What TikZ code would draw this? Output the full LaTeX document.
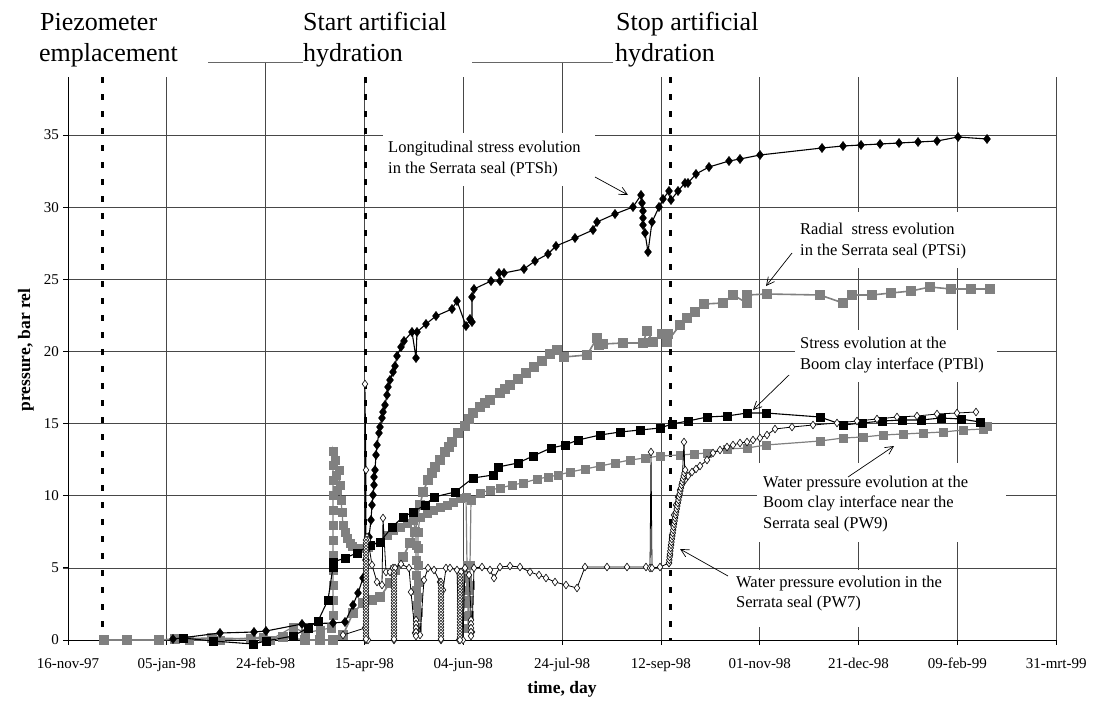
\documentclass[tikz,border=0pt]{standalone}
\usepackage{fontspec}
\setmainfont{Liberation Serif}
\usetikzlibrary{plotmarks,arrows.meta}
\begin{document}
\begin{tikzpicture}[x=1pt,y=-1pt,
  gridln/.style={draw=black!72, line width=0.7pt},
  hydr/.style={line width=3pt, dash pattern=on 5.5pt off 11.5pt},
  bigtxt/.style={font=\fontsize{26}{30}\selectfont, anchor=base west, inner sep=0pt},
  ticktxt/.style={font=\fontsize{15}{18}\selectfont, inner sep=0pt},
  notetxt/.style={font=\fontsize{16.5}{21}\selectfont, anchor=base west, inner sep=0pt},
  axtitle/.style={font=\bfseries\fontsize{17.5}{20}\selectfont, inner sep=0pt},
  annarrow/.style={-{Straight Barb[length=8pt,width=8pt]}, line width=0.7pt},
  ptsh/.style={black, line width=1.1pt, mark=diamond*, mark size=4.6pt, mark options={fill=black, draw=black, line width=0.4pt, solid}},
  ptsi/.style={black!50, line width=1.6pt, mark=square*, mark size=4.5pt, mark options={fill=black!50, draw=black!50, line width=0.3pt}},
  pw9/.style={black!50, line width=1.2pt, mark=square*, mark size=4.1pt, mark options={fill=black!50, draw=black!50, line width=0.3pt}},
  ptbl/.style={black, line width=1.1pt, mark=square*, mark size=4.3pt, mark options={fill=black, draw=black, line width=0.3pt}},
  pw7/.style={black, line width=0.8pt, mark=diamond*, mark size=3.8pt, mark options={fill=white, draw=black, line width=0.6pt, solid}},
]
\useasboundingbox (0,0) rectangle (1094,701);
\fill[white] (0,0) rectangle (1094,701);

% horizontal grid lines
\foreach \v in {5,10,...,35}{
  \draw[gridln] (63,{640-14.43*\v}) -- (1056,{640-14.43*\v});
}
% vertical grid lines
\foreach \k in {1,3,4,6,7,8,9,10}{
  \draw[gridln] ({68+98.82*\k},77) -- ({68+98.82*\k},640);
}
\foreach \k in {2,5}{
  \draw[gridln] ({68+98.82*\k},62) -- ({68+98.82*\k},640);
}
\draw[black!60, line width=0.8pt] (208,62) -- (303,62);
\draw[black!60, line width=0.8pt] (472,62) -- (613,62);

% white label boxes
\fill[white] (383,133) rectangle (595,186);
\fill[white] (795,212) rectangle (975,268);
\fill[white] (795,330) rectangle (997,382);
\fill[white] (757,463) rectangle (1006,542);
\fill[white] (730,570) rectangle (950,627);

% axes
\draw[black, line width=1pt] (68,77) -- (68,640) -- (1056,640);
\foreach \v in {0,5,...,35}{
  \draw[black, line width=0.8pt] (63,{640-14.43*\v}) -- (68,{640-14.43*\v});
}
\foreach \k in {0,...,10}{
  \draw[black, line width=0.8pt] ({68+98.82*\k},640) -- ({68+98.82*\k},645);
}

% y tick labels
\foreach \v in {0,5,...,35}{
  \node[ticktxt, anchor=east] (yl\v) at (59,{640-14.43*\v}) {\v};
}
% x tick labels
\foreach \k/\lab in {0/16-nov-97,1/05-jan-98,2/24-feb-98,3/15-apr-98,4/04-jun-98,5/24-jul-98,6/12-sep-98,7/01-nov-98,8/21-dec-98,9/09-feb-99,10/31-mrt-99}{
  \node[ticktxt, anchor=base] (xl\k) at ({68+98.82*\k},668) {\lab};
}

% axis titles
\node[axtitle, rotate=90] (ylab) at (26,350) {pressure, bar rel};
\node[axtitle] (xlab) at (562,689) {time, day};

% event titles
\node[bigtxt] (ev1a) at (40,31) {Piezometer};
\node[bigtxt] (ev1b) at (39,61) {emplacement};
\node[bigtxt] (ev2a) at (303,31) {Start artificial};
\node[bigtxt] (ev2b) at (303,61) {hydration};
\node[bigtxt] (ev3a) at (616,31) {Stop artificial};
\node[bigtxt] (ev3b) at (615,61) {hydration};

% event lines
\draw[hydr] (102,77) -- (102,640);
\draw[hydr] (365,77) -- (365,640);
\draw[hydr] (670,77) -- (670,640);

% ---------- data series ----------
% PTSi radial stress (grey squares)
\draw[ptsi] plot coordinates {(104,640)(127,640)(159,640)(175,639)(212,638)(251,639)(283,637)(305,640)(320,640)(333,640)(343,635)(353,613)(363,603)(372,600)(380,597)(390,583)(395,570)(403,557)(410,543)(415,532)(420,505)(423,492)(428,480)(432,473)(435,467)(440,460)(445,452)(449,447)(452,442)(458,433)(465,426)(469,419)(473,413)(480,407)(485,403)(490,400)(500,393)(505,389)(510,385)(518,379)(526,373)(534,367)(542,361)(550,354)(557,350)(564,357)(587,355)(597,338)(599,345)(603,344)(623,343)(643,343)(647,331)(653,342)(662,334)(668,334)(667,342)(680,325)(687,318)(695,312)(704,304)(723,303)(733,295)(747,303)(747,295)(767,294)(820,295)(843,303)(852,295)(872,295)(891,293)(911,291)(930,287)(951,289)(971,289)(990,289)};

% PW9 water pressure at interface (grey squares)
\draw[pw9] plot coordinates {(189,640)(220,640)(263,637)(270,640)(293,627)(305,633)(320,630)(331,628)(333,615)(333,600)(333,585)(333,570)(333,555)(333,540)(333,525)(333,510)(333,495)(333,480)(333,465)(333,451)(335,460)(336,475)(337,490)(339,470)(340,485)(341,500)(342,512)(343,525)(345,532)(347,538)(350,543)(352,546)(357,548)(363,548)(368,547)(380,542)(387,535)(393,530)(400,527)(407,523)(413,520)(416,532)(416,545)(416,560)(416,575)(416,590)(416,605)(417,617)(417,627)(418,612)(418,597)(418,582)(418,565)(418,548)(418,532)(420,517)(427,513)(433,510)(440,507)(447,505)(453,502)(460,498)(466,497)(467,565)(467,578)(468,590)(468,603)(468,616)(468,628)(469,615)(469,600)(470,585)(470,565)(471,500)(480,493)(490,490)(500,488)(512,485)(523,483)(537,479)(548,477)(558,475)(570,472)(585,469)(600,466)(615,463)(630,460)(645,458)(660,456)(680,455)(694,454)(707,453)(727,449)(747,448)(766,445)(820,441)(843,438)(863,437)(883,435)(903,434)(923,433)(943,432)(963,430)(983,429)(987,426)};

% PTBl stress at Boom clay interface (black squares)
\draw[ptbl] plot coordinates {(183,638)(213,641)(253,644)(266,641)(293,636)(308,628)(318,621)(328,600)(333,567)(333,562)(345,558)(357,553)(370,545)(380,542)(392,527)(403,517)(413,512)(425,505)(434,497)(455,492)(473,478)(493,475)(498,467)(518,463)(533,456)(551,448)(565,445)(578,440)(600,435)(620,432)(640,430)(660,428)(672,424)(688,421)(707,417)(727,416)(747,413)(766,413)(820,417)(843,425)(862,423)(882,421)(902,420)(921,420)(941,418)(961,419)(980,422)};

% PTSh longitudinal stress (black diamonds)
\draw[ptsh] plot coordinates {(173,639)(220,633)(254,632)(266,631)(302,624)(333,623)(345,622)(353,605)(358,593)(363,578)(366,560)(369,537)(371,520)(372,505)(373,495)(374,485)(374,477)(375,470)(376,455)(377,445)(379,433)(380,427)(382,418)(383,412)(385,405)(387,395)(388,387)(390,380)(393,372)(395,366)(397,356)(401,347)(404,341)(412,332)(416,358)(417,332)(426,324)(436,316)(452,309)(457,301)(466,326)(470,319)(472,322)(472,297)(474,289)(491,281)(500,281)(499,273)(504,273)(524,269)(535,261)(548,254)(556,246)(575,238)(593,230)(597,222)(615,214)(633,207)(641,195)(642,203)(643,211)(643,218)(643,225)(645,233)(648,252)(652,222)(659,207)(663,199)(669,191)(671,200)(678,191)(685,183)(688,183)(696,174)(709,167)(729,161)(740,159)(760,155)(822,148)(843,146)(861,145)(880,144)(899,143)(918,142)(937,141)(958,137)(987,139)};

% PW7 water pressure in the seal (open diamonds)
\draw[pw7] plot coordinates {(343,635)(365,628)(365,384)(366,470)(366,640)(367,537)(368,640)(368,540)(372,565)(377,582)(382,585)(383,518)(386,572)(390,572)(393,568)(394,640)(395,568)(401,564)(409,568)(411,592)(415,633)(417,628)(420,635)(424,580)(428,568)(434,570)(440,582)(441,640)(443,590)(446,568)(450,568)(457,570)(459,640)(461,572)(463,640)(465,568)(469,575)(472,632)(474,568)(482,567)(490,570)(494,578)(500,567)(510,566)(520,567)(530,572)(539,575)(546,578)(555,582)(566,585)(577,588)(585,567)(607,567)(627,567)(646,567)(650,568)(651,452)(652,568)(660,567)(669,563)(670,555)(671,545)(672,535)(673,525)(674,515)(676,505)(678,497)(680,490)(682,484)(684,442)(685,480)(688,476)(692,472)(696,469)(700,466)(707,460)(713,453)(720,450)(727,447)(733,445)(740,443)(747,442)(753,440)(760,438)(767,435)(775,429)(792,427)(813,425)(837,423)(857,421)(877,419)(897,417)(917,416)(937,414)(957,413)(976,412)};
% dense columns of PW7 readings
\foreach \yy in {540,543,...,640}{\path plot[pw7, only marks] coordinates {(366,\yy)};}
\foreach \yy in {573,576,...,640}{\path plot[pw7, only marks] coordinates {(394,\yy)};}
\foreach \yy in {582,585,...,640}{\path plot[pw7, only marks] coordinates {(441,\yy)};}
\foreach \yy in {577,580,...,640}{\path plot[pw7, only marks] coordinates {(460,\yy)};}
\foreach \yy in {620,624,...,636}{\path plot[pw7, only marks] coordinates {(416,\yy)}; \path plot[pw7, only marks] coordinates {(471,\yy)};}
\foreach \yy in {563,560,...,470}{\path plot[pw7, only marks] coordinates {({669+0.0008*(563-\yy)*(563-\yy)+0.1*(563-\yy)},\yy)};}

% ---------- annotations ----------
\node[notetxt] (a1) at (388,152) {Longitudinal stress evolution};
\node[notetxt] (a2) at (388,173) {in the Serrata seal (PTSh)};
\node[notetxt] (b1) at (800,234) {Radial\ \ stress evolution};
\node[notetxt] (b2) at (800,255) {in the Serrata seal (PTSi)};
\node[notetxt] (c1) at (800,348) {Stress evolution at the};
\node[notetxt] (c2) at (800,369) {Boom clay interface (PTBl)};
\node[notetxt] (d1) at (763,487) {Water pressure evolution at the};
\node[notetxt] (d2) at (763,507) {Boom clay interface near the};
\node[notetxt] (d3) at (763,528) {Serrata seal (PW9)};
\node[notetxt] (e1) at (736,587) {Water pressure evolution in the};
\node[notetxt] (e2) at (736,607) {Serrata seal (PW7)};

\coordinate (pa0) at (595,177); \coordinate (pa1) at (628,195);
\coordinate (pb0) at (792,253); \coordinate (pb1) at (766,286);
\coordinate (pc0) at (789,375); \coordinate (pc1) at (753,410);
\coordinate (pd0) at (848,477); \coordinate (pd1) at (894,446);
\coordinate (pe0) at (728,576); \coordinate (pe1) at (680,549);
\draw[annarrow] (pa0) -- (pa1);
\draw[annarrow] (pb0) -- (pb1);
\draw[annarrow] (pc0) -- (pc1);
\draw[annarrow] (pd0) -- (pd1);
\draw[annarrow] (pe0) -- (pe1);
\end{tikzpicture}
\end{document}
